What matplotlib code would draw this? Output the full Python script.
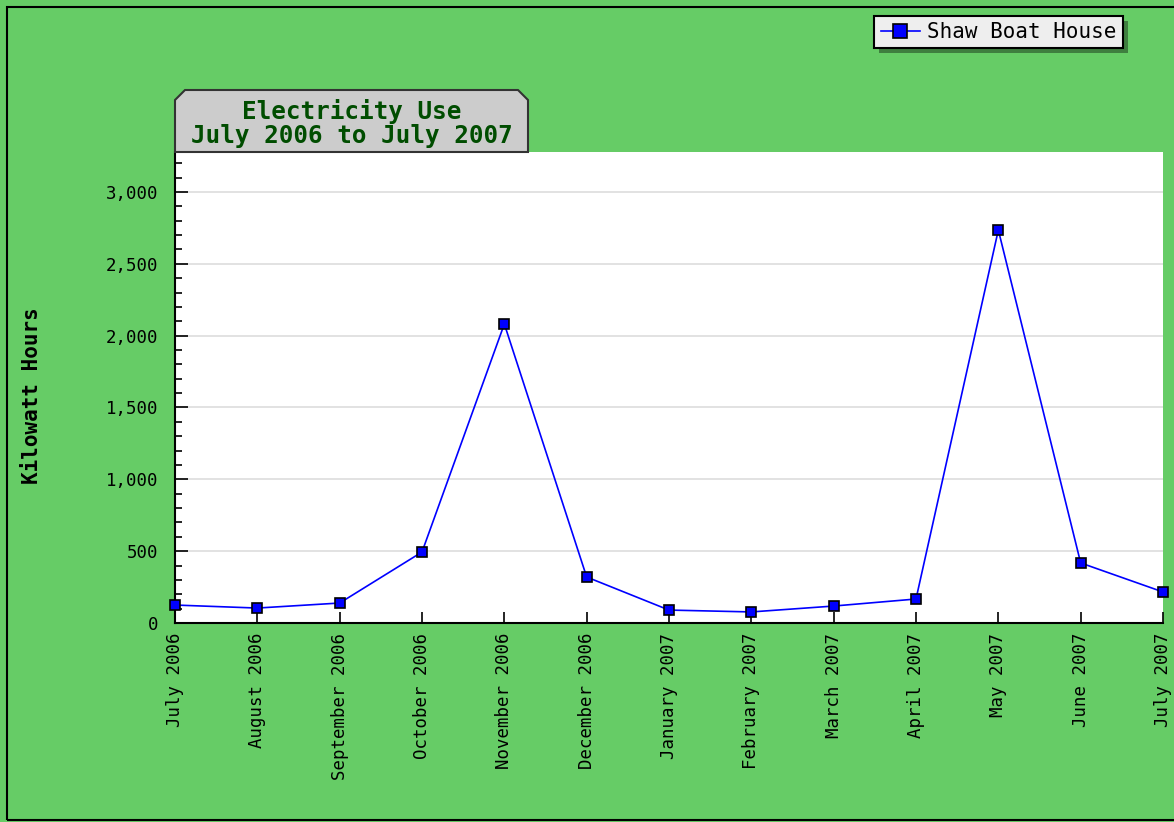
import numpy as np
import matplotlib
matplotlib.use("Agg")
from matplotlib import pyplot as plt
from matplotlib.patches import Polygon, Rectangle
from matplotlib.ticker import MultipleLocator, FuncFormatter

months = ['July 2006', 'August 2006', 'September 2006', 'October 2006',
          'November 2006', 'December 2006', 'January 2007', 'February 2007',
          'March 2007', 'April 2007', 'May 2007', 'June 2007', 'July 2007']
kwh = [125, 104, 139, 494, 2081, 320, 90, 77, 118, 167, 2735, 418, 216]
series_name = 'Shaw Boat House'
title_lines = ['Electricity Use', 'July 2006 to July 2007']
y_label = 'Kilowatt Hours'

W, H = 1174, 822
green = '#66cc66'
mono = 'DejaVu Sans Mono'

fig = plt.figure(figsize=(W / 100, H / 100), dpi=100, facecolor=green)

# outer black border (clipped on the right like the original)
fig.add_artist(Rectangle((7 / W, 2 / H), 1.2, (H - 9) / H, transform=fig.transFigure,
                         fill=False, edgecolor='black', linewidth=1.5))

ax = fig.add_axes([175 / W, 1 - 623 / H, (1163 - 175) / W, (623 - 152) / H])
ax.set_facecolor('white')

x = np.arange(len(months))
line, = ax.plot(x, kwh, color='#0000ff', linewidth=1.2, marker='s', markersize=7,
                markerfacecolor='#0000ff', markeredgecolor='black', markeredgewidth=1.2,
                label=series_name, zorder=3, clip_on=False)

ax.set_xlim(0, len(months) - 1)
ax.set_ylim(0, 3278)
ax.set_xticks(x)
ax.set_xticklabels(months, rotation=90, fontfamily=mono, fontsize=12.5, va='top')
ax.yaxis.set_major_locator(MultipleLocator(500))
ax.yaxis.set_minor_locator(MultipleLocator(100))
ax.yaxis.set_major_formatter(FuncFormatter(lambda v, p: f'{int(v):,}'))
for lbl in ax.get_yticklabels():
    lbl.set_fontfamily(mono)
    lbl.set_fontsize(12.5)

ax.tick_params(axis='y', which='major', direction='in', length=9, width=1.2, pad=12)
ax.tick_params(axis='y', which='minor', direction='in', length=5, width=1.2)
ax.tick_params(axis='x', which='major', direction='in', length=8, width=1.2, pad=7)
ax.grid(axis='y', which='major', color='#dddddd', linewidth=1.2)
ax.set_axisbelow(True)

for s in ['top', 'right']:
    ax.spines[s].set_visible(False)
for s in ['left', 'bottom']:
    ax.spines[s].set_linewidth(1.5)

fig.text(32 / W, 1 - 396 / H, y_label, rotation=90, ha='center', va='center',
         fontfamily=mono, fontsize=15, fontweight='bold', color='black')

# title tab with chamfered top corners
x0, x1, y0, y1, c = 175, 528, 152, 90, 10
pts = [(x0, y0), (x0, y1 + c), (x0 + c, y1), (x1 - c, y1), (x1, y1 + c), (x1, y0)]
pts = [(px / W, 1 - py / H) for px, py in pts]
fig.add_artist(Polygon(pts, closed=True, transform=fig.transFigure,
                       facecolor='#cccccc', edgecolor='#333333', linewidth=1.5))
fig.text((x0 + x1) / 2 / W, 1 - 123 / H, '\n'.join(title_lines), ha='center', va='center',
         fontfamily=mono, fontsize=17.5, fontweight='bold', color='#004d00',
         linespacing=1.0)

# legend with a hard drop shadow
leg = fig.legend(handles=[line], loc='upper right', bbox_to_anchor=(1123 / W, 1 - 16 / H),
                 frameon=True, fancybox=False, shadow=False, framealpha=1,
                 facecolor='#eeeeee', edgecolor='black', borderpad=0.3,
                 handlelength=1.9, handletextpad=0.35, borderaxespad=0,
                 markerscale=1.4, prop={'family': mono, 'size': 15})
leg.get_frame().set_linewidth(1.5)
leg.set_zorder(6)
fig.canvas.draw()
bb = leg.get_window_extent()
fig.add_artist(Rectangle(((bb.x0 + 5) / W, (bb.y0 - 5) / H), bb.width / W, bb.height / H,
                         transform=fig.transFigure, facecolor='#3f7f3f',
                         edgecolor='none', zorder=5))

fig.savefig('out.png', dpi=100, facecolor=green)
